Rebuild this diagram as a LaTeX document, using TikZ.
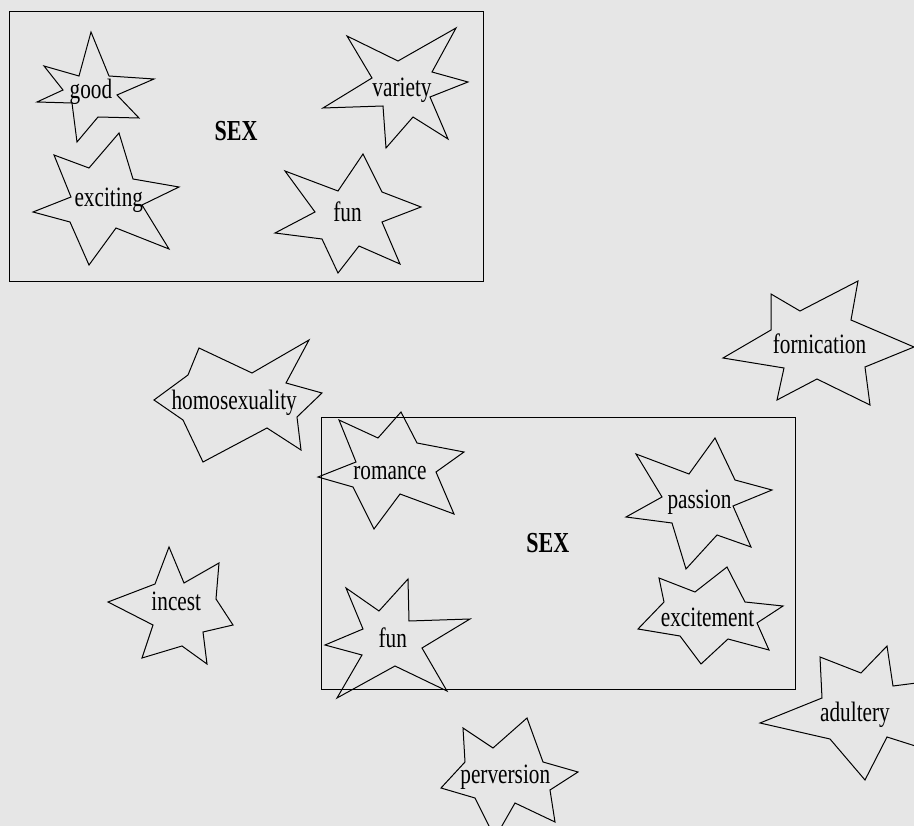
\documentclass[tikz,border=0pt]{standalone}
\usepackage{fontspec}
\setmainfont{Liberation Serif}[FakeStretch=0.76]
\definecolor{bgcol}{HTML}{E6E6E6}
\begin{document}
\begin{tikzpicture}[x=1pt,y=-1pt,
  starline/.style={draw=black,line width=1pt,line join=miter},
  frame/.style={draw=black,line width=1pt},
  lbl/.style={font=\fontsize{28}{28}\selectfont,inner sep=0pt,anchor=base},
  hub/.style={font=\fontsize{29}{29}\selectfont\bfseries,inner sep=0pt,anchor=base}]
\useasboundingbox (0,0) rectangle (914,826);
\fill[bgcol] (0,0) rectangle (914,826);
\clip (0,0) rectangle (914,826);
% boxes
\draw[frame] (9,12) rectangle (483,282);
\draw[frame] (321,418) rectangle (795,689);
% stars, top box
\draw[starline] (91,32)--(109,76)--(154,79)--(117,95)--(139,118)--(98,117)--(77,142)--(72,103)--(37,102)--(63,90)--(44,66)--(79,76)--cycle;
\draw[starline] (119,133)--(133,179)--(179,187)--(142,205)--(169,249)--(116,228)--(89,265)--(70,222)--(33,212)--(71,197)--(54,155)--(89,168)--cycle;
\draw[starline] (456,28)--(432,72)--(468,82)--(430,97)--(448,139)--(413,117)--(386,148)--(383,106)--(323,108)--(372,78)--(347,36)--(398,61)--cycle;
\draw[starline] (363,154)--(382,192)--(421,207)--(382,222)--(400,264)--(359,246)--(338,273)--(322,239)--(275,233)--(315,212)--(285,171)--(338,191)--cycle;
% stars, bottom box
\draw[starline] (401,412)--(417,443)--(464,452)--(436,472)--(454,514)--(400,494)--(374,529)--(353,487)--(318,477)--(356,462)--(339,420)--(378,438)--cycle;
\draw[starline] (715,438)--(735,480)--(772,490)--(733,506)--(751,547)--(717,535)--(686,569)--(672,523)--(626,517)--(662,497)--(636,454)--(689,474)--cycle;
\draw[starline] (727,567)--(745,602)--(783,606)--(757,623)--(769,650)--(728,639)--(701,664)--(680,636)--(638,629)--(664,602)--(659,578)--(695,592)--cycle;
\draw[starline] (408,579)--(409,621)--(470,619)--(422,648)--(447,691)--(395,666)--(337,698)--(362,655)--(325,645)--(363,629)--(346,588)--(379,611)--cycle;
% stars, outside
\draw[starline] (858,281)--(851,320)--(914,347)--(865,367)--(870,405)--(817,379)--(777,400)--(784,368)--(723,358)--(771,330)--(771,294)--(800,311)--cycle;
\draw[starline] (309,340)--(286,383)--(322,393)--(297,417)--(301,450)--(267,428)--(203,462)--(183,420)--(154,400)--(188,375)--(199,348)--(252,373)--cycle;
\draw[starline] (169,547)--(184,583)--(219,563)--(216,599)--(233,625)--(203,632)--(207,664)--(182,646)--(142,658)--(153,625)--(108,602)--(155,584)--cycle;
\draw[starline] (527,718)--(543,762)--(578,772)--(550,790)--(555,822)--(515,803)--(495,838)--(475,798)--(441,788)--(465,762)--(463,728)--(493,748)--cycle;
\draw[starline] (820,657)--(861,673)--(887,646)--(893,686)--(940,680)--(935,720)--(950,757)--(887,737)--(865,780)--(830,739)--(760,723)--(822,698)--cycle;
% labels
\node[hub] (sexA) at (236,140.7) {SEX};
\node[lbl] (good) at (91,99) {good};
\node[lbl] (exciting) at (108.8,207) {exciting};
\node[lbl] (variety) at (402,96.7) {variety};
\node[lbl] (funA) at (347.5,221.7) {fun};
\node[hub] (sexB) at (547.8,552.3) {SEX};
\node[lbl] (romance) at (390,480) {romance};
\node[lbl] (passion) at (699.5,508.3) {passion};
\node[lbl] (excitement) at (707.5,626.7) {excitement};
\node[lbl] (funB) at (392.8,647.3) {fun};
\node[lbl] (fornication) at (819.5,353.3) {fornication};
\node[lbl] (homosexuality) at (234.2,410) {homosexuality};
\node[lbl] (incest) at (176.3,610.7) {incest};
\node[lbl] (perversion) at (505.3,783.3) {perversion};
\node[lbl] (adultery) at (855,721.7) {adultery};
\end{tikzpicture}
\end{document}
